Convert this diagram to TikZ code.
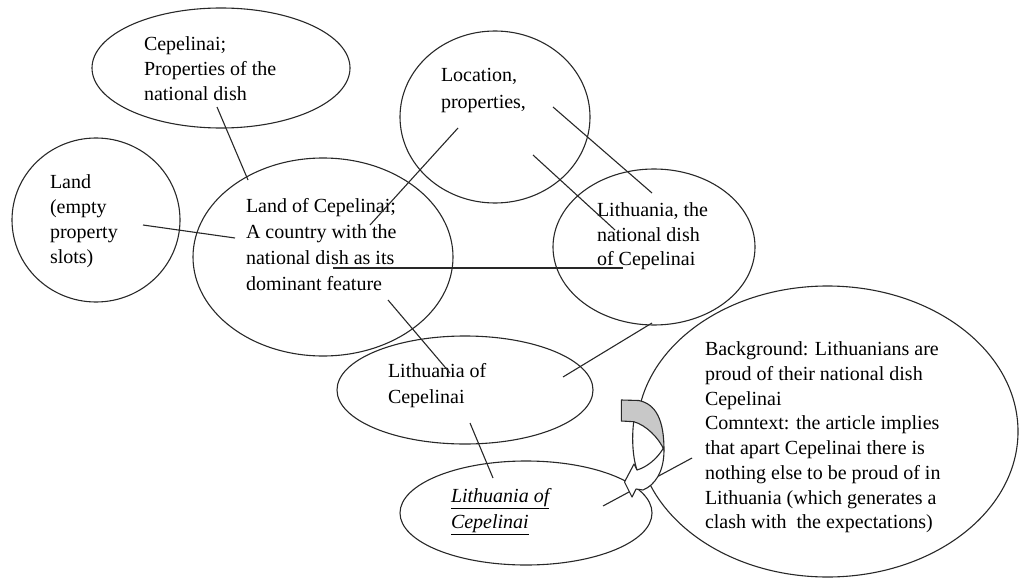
\documentclass[tikz,border=0pt]{standalone}
\usepackage{fontspec}
\setmainfont{Liberation Serif}
\usetikzlibrary{shapes.geometric}
\definecolor{inkline}{RGB}{40,40,40}
\definecolor{bandgray}{RGB}{200,200,200}
\begin{document}
\begin{tikzpicture}[x=1pt,y=-1pt,
  bubble/.style={draw=inkline, line width=1.1pt, ellipse, inner sep=0pt, outer sep=0pt},
  lbl/.style={anchor=north west, inner sep=0pt, outer sep=0pt, align=left,
              font=\fontsize{20}{24.7}\selectfont},
  wire/.style={draw=inkline, line width=1.1pt}]
\useasboundingbox (0,0) rectangle (1019,583);

% ellipses
\node[bubble, minimum width=258pt, minimum height=120pt] (dish)    at (221,68)  {};
\node[bubble, minimum width=168pt, minimum height=164pt] (land)    at (96,220)  {};
\node[bubble, minimum width=260pt, minimum height=198pt] (landcep) at (323,257) {};
\node[bubble, minimum width=190pt, minimum height=172pt] (loc)     at (495,117) {};
\node[bubble, minimum width=202pt, minimum height=156pt] (lith)    at (654,247) {};
\node[bubble, minimum width=256pt, minimum height=108pt] (lithcep) at (465,390) {};
\node[bubble, minimum width=252pt, minimum height=104pt] (blend)   at (526,513) {};
\node[bubble, minimum width=381pt, minimum height=291pt] (context) at (827.5,431.5) {};

% texts
\node[lbl] (tdish) at (144,37) {Cepelinai;\\Properties of the\\national dish};
\node[lbl, font=\fontsize{20}{25}\selectfont] (tland) at (50,175) {Land\\(empty\\property\\slots)};
\node[lbl, font=\fontsize{20}{26}\selectfont] (tlandcep) at (246,198)
  {Land of Cepelinai;\\A country with the\\national dish as its\\dominant feature};
\node[lbl, font=\fontsize{20}{27}\selectfont] (tloc) at (441,68) {Location,\\properties,};
\node[lbl, font=\fontsize{20}{24.5}\selectfont] (tlith) at (597,203) {Lithuania, the\\national dish\\of Cepelinai};
\node[lbl, font=\fontsize{20}{26.7}\selectfont] (tlithcep) at (388,363) {Lithuania of\\Cepelinai};
\node[lbl, font=\fontsize{20}{26.7}\selectfont\itshape] (tblend) at (451,488)
  {\underline{Lithuania of}\\\underline{Cepelinai}};
\node[lbl] (tcontext) at (705,342)
  {Background: Lithuanians are\\proud of their national dish\\Cepelinai\\Comntext: the article implies\\that apart Cepelinai there is\\nothing else to be proud of in\\Lithuania (which generates a\\clash with~ the expectations)};

% connector end points
\coordinate (c1a) at (217,107);  \coordinate (c1b) at (248,180);
\coordinate (c2a) at (143,225);  \coordinate (c2b) at (235,238);
\coordinate (c3a) at (458,128);  \coordinate (c3b) at (370,225);
\coordinate (c4a) at (553,107);  \coordinate (c4b) at (652,193);
\coordinate (c5a) at (533,155);  \coordinate (c5b) at (615,230);
\coordinate (c6a) at (333,268);  \coordinate (c6b) at (623,268);
\coordinate (c7a) at (388,300);  \coordinate (c7b) at (450,373);
\coordinate (c8a) at (652,323);  \coordinate (c8b) at (563,377);
\coordinate (c9a) at (470,423);  \coordinate (c9b) at (493,478);
\coordinate (c10a) at (603,506); \coordinate (c10b) at (692,458);

\draw[wire] (c1a) -- (c1b);
\draw[wire] (c2a) -- (c2b);
\draw[wire] (c3a) -- (c3b);
\draw[wire] (c4a) -- (c4b);
\draw[wire] (c5a) -- (c5b);
\draw[wire] (c6a) -- (c6b);
\draw[wire] (c7a) -- (c7b);
\draw[wire] (c8a) -- (c8b);
\draw[wire] (c9a) -- (c9b);
\draw[wire] (c10a) -- (c10b);

% curved block arrow: grey back band turning into a white front shaft
\fill[white] (621.3,400) -- (638.7,400.5)
  .. controls (656,404) and (664,420) .. (664,450) -- (664,455)
  .. controls (664,472) and (655,485) .. (643,490) -- (636,489) -- (632,497)
  -- (624.5,482) -- (634,464) -- (637,470)
  .. controls (632,455) and (632,435) .. (633.7,421.7) -- (621.3,421) -- cycle;
\draw[wire, fill=bandgray, line join=round] (621.3,400) -- (638.7,400.5)
  .. controls (656,404) and (664,420) .. (664,450)
  .. controls (659,438) and (646,425) .. (633.7,421.7) -- (621.3,421) -- cycle;
\draw[wire] (633.7,421.7) .. controls (632,435) and (632,455) .. (637,470);
\draw[wire, line join=round] (663.5,448) .. controls (657,459) and (647,467) .. (637,470)
  -- (634,464) -- (624.5,482) -- (632,497) -- (636,489) -- (643,490)
  .. controls (655,485) and (664,472) .. (664,450);
\end{tikzpicture}
\end{document}
